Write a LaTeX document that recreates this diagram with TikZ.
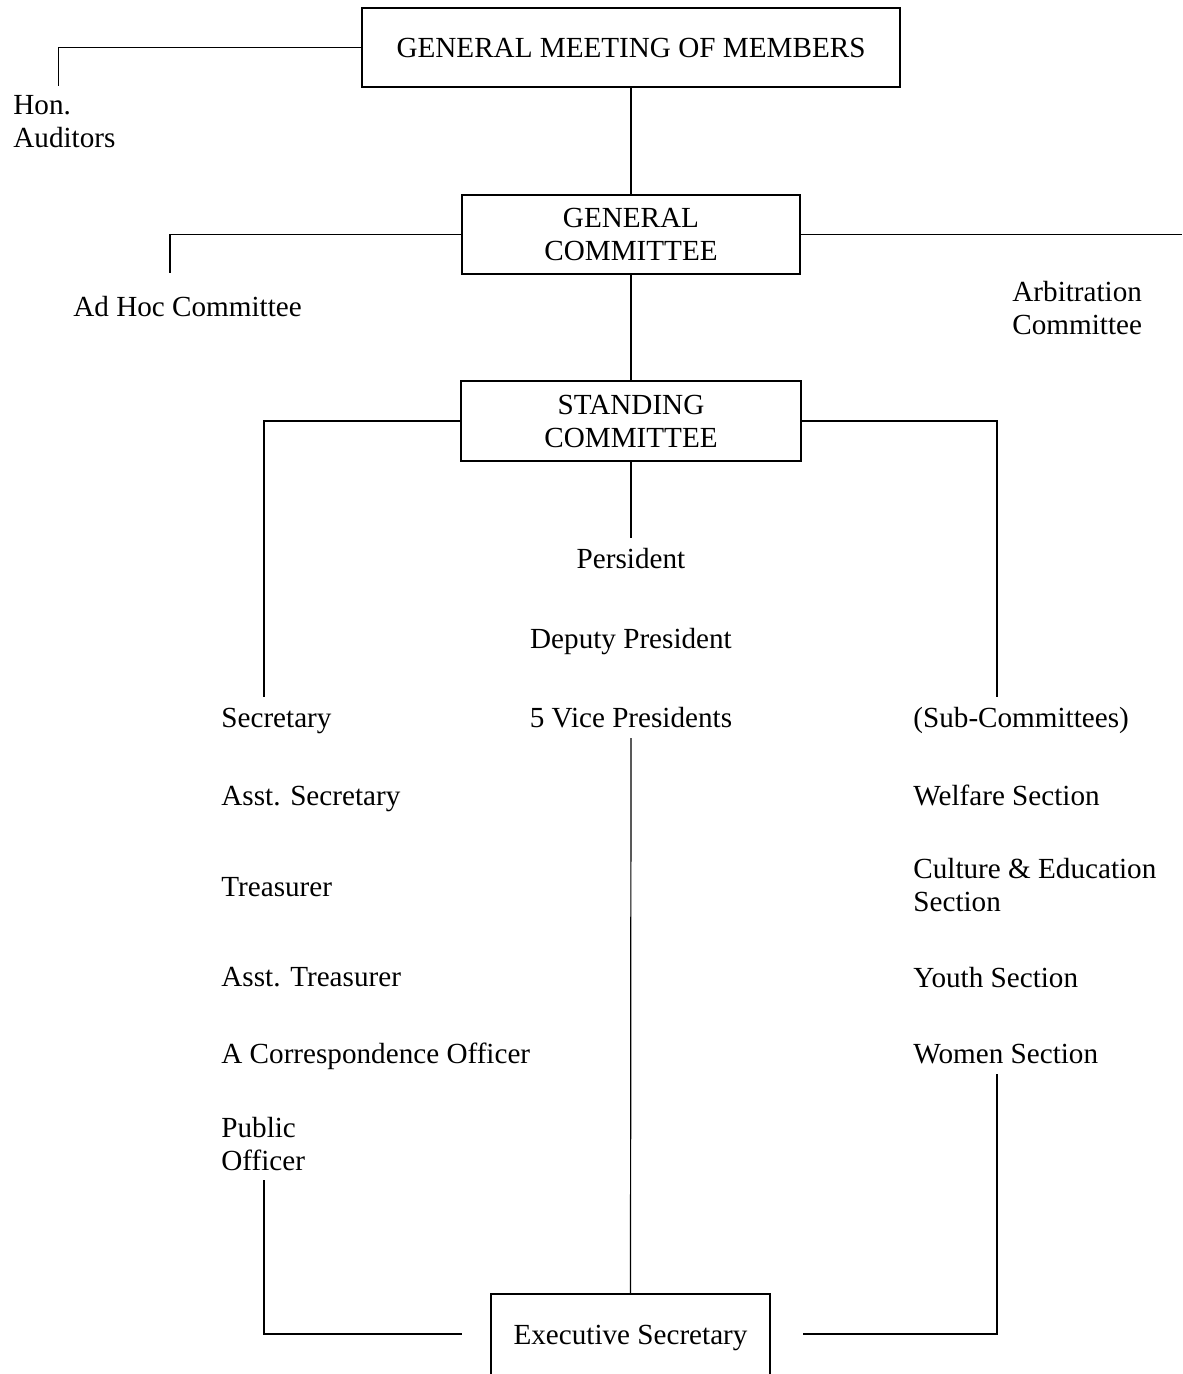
\documentclass[tikz,border=0pt]{standalone}
\usepackage{fontspec}
\setmainfont{Liberation Serif}
\begin{document}
\begin{tikzpicture}[x=0.5pt,y=-0.5pt,
  every node/.style={inner sep=0pt, font=\fontsize{14.58}{16.5}\selectfont},
  orgbox/.style={draw, line width=1pt, align=center},
  conn/.style={line width=0.6pt},
  lbl/.style={anchor=base west},
  clbl/.style={anchor=base},
  mlbl/.style={anchor=west, align=left}]
\useasboundingbox (0,0) rectangle (1182,1374);
\clip (0,0) rectangle (1182,1374);
% boxes
\node[orgbox, minimum width=269pt, minimum height=39.5pt] (gm) at (631,47.5) {GENERAL MEETING OF MEMBERS};
\node[orgbox, minimum width=169pt, minimum height=39.5pt] (gc) at (631,234.5) {GENERAL\\COMMITTEE};
\node[orgbox, minimum width=170pt, minimum height=40pt] (sc) at (631,421) {STANDING\\COMMITTEE};
\node[orgbox, minimum width=139.5pt, minimum height=44pt] (es) at (630.5,1338) {Executive Secretary};
% labels
\node[mlbl] (hon) at (13,121.9) {Hon.\\Auditors};
\node[lbl] (adhoc) at (73,317) {Ad Hoc Committee};
\node[mlbl] (arb) at (1012,308.4) {Arbitration\\Committee};
\node[clbl] (pres) at (631,568) {Persident};
\node[clbl] (dep) at (631,648) {Deputy President};
\node[clbl] (vp) at (631,727) {5 Vice Presidents};
\node[lbl] (sec) at (221,727) {Secretary};
\node[lbl] (asec) at (221,805) {Asst. Secretary};
\node[lbl] (tre) at (221,896) {Treasurer};
\node[lbl] (atre) at (221,986) {Asst. Treasurer};
\node[lbl] (cor) at (221,1063) {A Correspondence Officer};
\node[mlbl] (pub) at (221,1144.5) {Public\\Officer};
\node[lbl] (sub) at (913,727) {(Sub-Committees)};
\node[lbl] (wel) at (913,805) {Welfare Section};
\node[mlbl] (cul) at (913,885.5) {Culture \& Education\\Section};
\node[lbl] (you) at (913,987) {Youth Section};
\node[lbl] (wom) at (913,1063) {Women Section};
% free ends
\coordinate (honend) at (58.5,86);
\coordinate (adhocend) at (170,273);
\coordinate (arbend) at (1182,234.5);
\coordinate (secend) at (264,697);
\coordinate (subend) at (997,697);
\coordinate (presend) at (631,538);
\coordinate (vpstart) at (631,738);
\coordinate (pubend) at (264,1180);
\coordinate (lhend) at (462,1334);
\coordinate (womend) at (997,1074);
\coordinate (rhend) at (803,1334);
% connectors
\draw[conn] (gm.west) -| (honend);
\draw[conn] (gm.south) -- (gc.north);
\draw[conn] (gc.west) -| (adhocend);
\draw[conn] (gc.east) -- (arbend);
\draw[conn] (gc.south) -- (sc.north);
\draw[conn] (sc.west) -| (secend);
\draw[conn] (sc.east) -| (subend);
\draw[conn] (sc.south) -- (presend);
\draw[conn] (vpstart) -- (es.north);
\draw[conn] (pubend) |- (lhend);
\draw[conn] (womend) |- (rhend);
\end{tikzpicture}
\end{document}
